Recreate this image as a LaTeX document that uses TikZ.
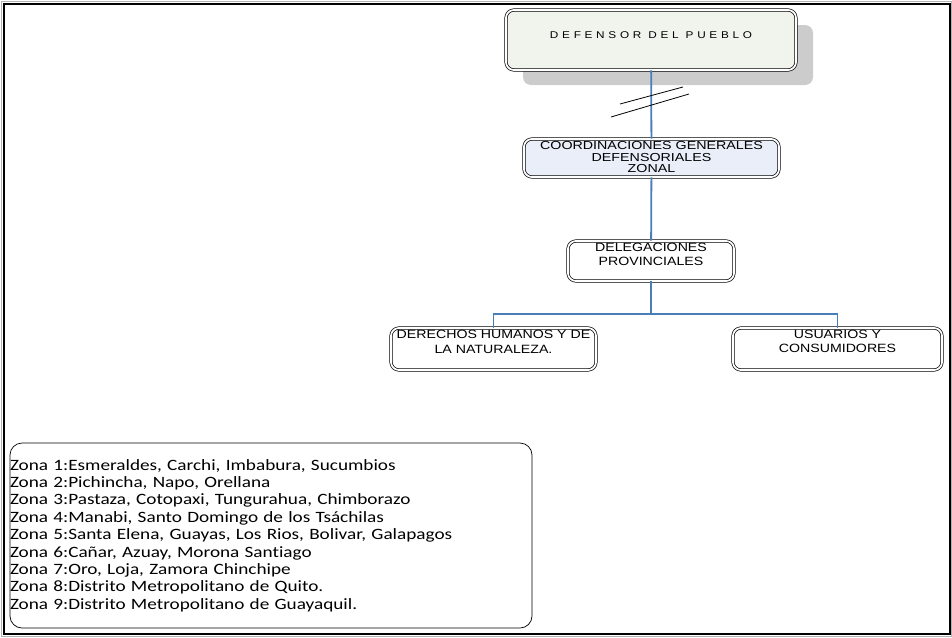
\documentclass[tikz,border=0pt]{standalone}
\usepackage{fontspec}
\setmainfont{Liberation Sans}
\newfontfamily\boxfont[FakeStretch=1.18]{Liberation Sans}
\newfontfamily\widefont[FakeStretch=1.23]{Liberation Sans}
\newfontfamily\spacedfont[FakeStretch=1.2, LetterSpace=38]{Liberation Sans}
\newfontfamily\zonefont[FakeStretch=1.22, Ligatures=NoCommon]{Carlito}
\usetikzlibrary{shadows}
\definecolor{linkblue}{RGB}{74,126,187}
\definecolor{topfill}{RGB}{241,244,237}
\definecolor{coordfill}{RGB}{233,238,248}
\definecolor{shadowgray}{RGB}{204,204,204}
\begin{document}
\begin{tikzpicture}[
        x=1pt, y=-1pt,
        orgbox/.style={rectangle, rounded corners=8pt, draw, line width=0.7pt, double, double distance=1.8pt, inner sep=0pt, fill=white},
        boxtext/.style={anchor=north, align=center, inner sep=0pt, font=\boxfont\fontsize{12}{13.5}\selectfont},
        zonebox/.style={rectangle, rounded corners=12pt, draw, line width=0.7pt, inner sep=0pt, text width=522pt, align=left, font=\zonefont\fontsize{15.75}{17.4}\selectfont},
        link/.style={draw=linkblue, line width=1.8pt}
    ]
        \useasboundingbox (0,0) rectangle (952,637);
        % Page frame
        \draw[gray!60, line width=1pt] (1,1) rectangle (951,636);
        \draw[line width=2.2pt] (4.3,4.1) rectangle (949.7,634.3);

        % Hierarchy boxes (top to bottom)
        \node[orgbox, fill=topfill, minimum width=290pt, minimum height=60pt,
            drop shadow={shadow xshift=17pt, shadow yshift=-15pt, fill=shadowgray, opacity=1},
            label={[boxtext, font=\spacedfont\fontsize{9.8}{12}\selectfont, yshift=-21.5pt]north:DEFENSOR DEL PUEBLO}]
            (defensor) at (651,40) {};
        \node[orgbox, fill=coordfill, minimum width=255pt, minimum height=38pt,
            label={[boxtext, font=\widefont\fontsize{11.6}{11.8}\selectfont, yshift=-2.3pt]north:COORDINACIONES GENERALES\\DEFENSORIALES\\ZONAL}]
            (coord) at (651.5,158) {};
        \node[orgbox, minimum width=166pt, minimum height=40pt,
            label={[boxtext, yshift=-2.3pt]north:DELEGACIONES\\PROVINCIALES}]
            (deleg) at (651,261) {};

        % Bottom row
        \node[orgbox, minimum width=205pt, minimum height=42pt,
            label={[boxtext, font=\boxfont\fontsize{12}{15}\selectfont, yshift=-2.7pt]north:DERECHOS HUMANOS Y DE\\LA NATURALEZA.}]
            (derechos) at (493.5,349) {};
        \node[orgbox, minimum width=209pt, minimum height=42pt,
            label={[boxtext, yshift=-2.7pt]north:USUARIOS Y\\CONSUMIDORES}]
            (usuarios) at (837.5,349) {};

        % Connectors
        \coordinate (split) at (651,314);
        \draw[link] (defensor) -- (coord);
        \draw[link] (coord) -- (deleg);
        \draw[link] (deleg) -- (split) -| (derechos);
        \draw[link] (split) -| (usuarios);

        % Break marks
        \draw[line width=0.8pt] (620,104) -- (683,87);
        \draw[line width=0.8pt] (611,117) -- (689,94);

        % Zone list
        \node[zonebox, minimum height=185pt] (zonas) at (271,535.5) {Zona 1:Esmeraldes, Carchi, Imbabura, Sucumbios\\
            Zona 2:Pichincha, Napo, Orellana\\
            Zona 3:Pastaza, Cotopaxi, Tungurahua, Chimborazo\\
            Zona 4:Manabi, Santo Domingo de los Tsáchilas\\
            Zona 5:Santa Elena, Guayas, Los Rios, Bolivar, Galapagos\\
            Zona 6:Cañar, Azuay, Morona Santiago\\
            Zona 7:Oro, Loja, Zamora Chinchipe\\
            Zona 8:Distrito Metropolitano de Quito.\\
            Zona 9:Distrito Metropolitano de Guayaquil.};
    \end{tikzpicture}
\end{document}
